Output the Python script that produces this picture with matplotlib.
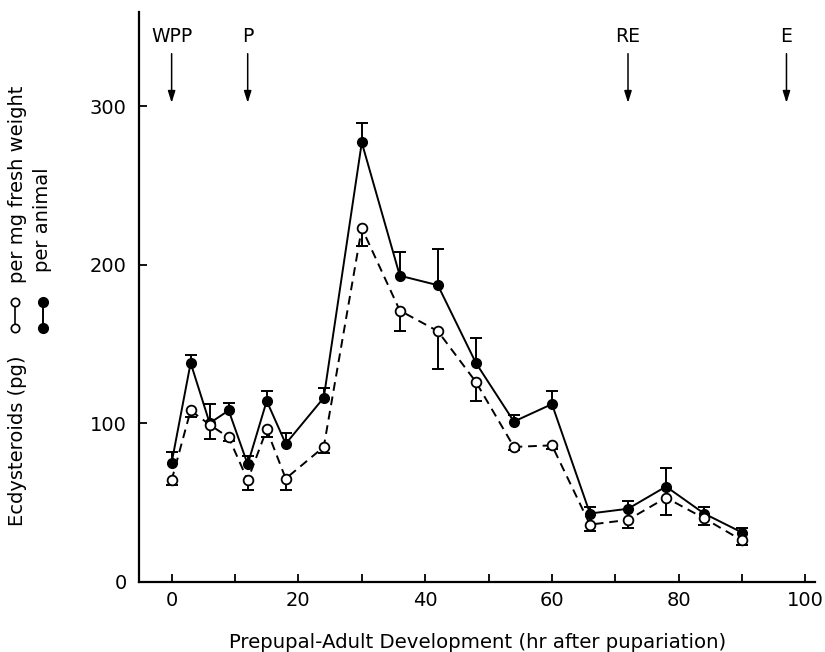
import matplotlib
matplotlib.use("Agg")
import matplotlib.pyplot as plt
from matplotlib.lines import Line2D

# ---- data ----
times = [0, 3, 6, 9, 12, 15, 18, 24, 30, 36, 42, 48, 54, 60, 66, 72, 78, 84, 90]
per_animal = [75, 138, 100, 108, 74, 114, 87, 116, 277, 193, 187, 138, 101, 112, 43, 46, 60, 43, 31]
per_animal_err = [7, 5, 12, 5, 5, 6, 7, 6, 12, 15, 23, 16, 4, 8, 4, 5, 12, 4, 3]
per_mg = [64, 108, 99, 91, 64, 96, 65, 85, 223, 171, 158, 126, 85, 86, 36, 39, 53, 40, 26]
per_mg_err = [3, 4, 9, 2, 6, 5, 7, 4, 11, 13, 24, 12, 2, 2, 4, 5, 11, 4, 3]

stage_labels = ["WPP", "P", "RE", "E"]
stage_times = [0, 12, 72, 97]

x_major = [0, 20, 40, 60, 80, 100]
x_minor = [10, 30, 50, 70, 90]
y_ticks = [0, 100, 200, 300]

xlabel = "Prepupal-Adult Development (hr after pupariation)"
ylabel_main = "Ecdysteroids (pg)"
legend_open = "per mg fresh weight"
legend_filled = "per animal"

plt.rcParams["font.family"] = ["DejaVu Sans"]

W, H = 825, 652
fig = plt.figure(figsize=(W / 100, H / 100), dpi=100)
ax = fig.add_axes([139.3 / W, 1 - 581.7 / H, (815 - 139.3) / W, (581.7 - 12) / H])
ax.set_xlim(-5.1, 101.5)
ax.set_ylim(0, 359.3)

lw = 1.4
# filled series: per animal (solid), error bars upward
eb1 = ax.errorbar(times, per_animal, yerr=[[0] * len(times), per_animal_err], fmt="none",
                  ecolor="black", elinewidth=lw, capsize=4, capthick=lw, zorder=2)
eb1[1][0].set_visible(False)
ax.plot(times, per_animal, "-o", color="black", mfc="black", mec="black", ms=7, lw=lw, zorder=3)

# open series: per mg fresh weight (dashed), error bars downward
eb2 = ax.errorbar(times, per_mg, yerr=[per_mg_err, [0] * len(times)], fmt="none",
                  ecolor="black", elinewidth=lw, capsize=4, capthick=lw, zorder=2)
eb2[1][1].set_visible(False)
ax.plot(times, per_mg, "o", linestyle=(0, (4.5, 3)), color="black", mfc="white", mec="black",
        ms=7, mew=1.3, lw=lw, zorder=4)

# stage arrows
for lab, t in zip(stage_labels, stage_times):
    ax.annotate("", xy=(t, 302), xytext=(t, 333),
                arrowprops=dict(arrowstyle="-|>,head_length=0.7,head_width=0.22",
                                color="black", lw=1.1, shrinkA=0, shrinkB=0))
    ax.text(t, 344, lab, ha="center", va="center", fontsize=13.5)

# axes styling
for s in ["top", "right"]:
    ax.spines[s].set_visible(False)
for s in ["left", "bottom"]:
    ax.spines[s].set_linewidth(1.6)
ax.set_xticks(x_major)
ax.set_xticks(x_minor, minor=True)
ax.set_yticks(y_ticks)
ax.tick_params(which="both", direction="in", length=6, width=1.3)
ax.tick_params(axis="y", labelsize=14, pad=9)
ax.tick_params(axis="x", labelsize=14, pad=7)
ax.set_xlabel(xlabel, fontsize=14.2, labelpad=16)

# y-axis label with inline legend symbols
def fx(px):
    return px / W

def fy(py):
    return 1 - py / H

fig.text(fx(18), fy(441), ylabel_main, rotation=90, ha="center", va="center",
         rotation_mode="anchor", fontsize=14)
fig.text(fx(18), fy(184), legend_open, rotation=90, ha="center", va="center",
         rotation_mode="anchor", fontsize=14)
fig.text(fx(43), fy(220), legend_filled, rotation=90, ha="center", va="center",
         rotation_mode="anchor", fontsize=14)
fig.add_artist(Line2D([fx(15), fx(15)], [fy(328), fy(302)], transform=fig.transFigure,
                      color="black", lw=1.2, marker="o", mfc="white", mec="black", ms=6, mew=1.2))
fig.add_artist(Line2D([fx(43), fx(43)], [fy(328), fy(302)], transform=fig.transFigure,
                      color="black", lw=1.4, marker="o", mfc="black", mec="black", ms=7))

fig.savefig("out.png", dpi=100)
